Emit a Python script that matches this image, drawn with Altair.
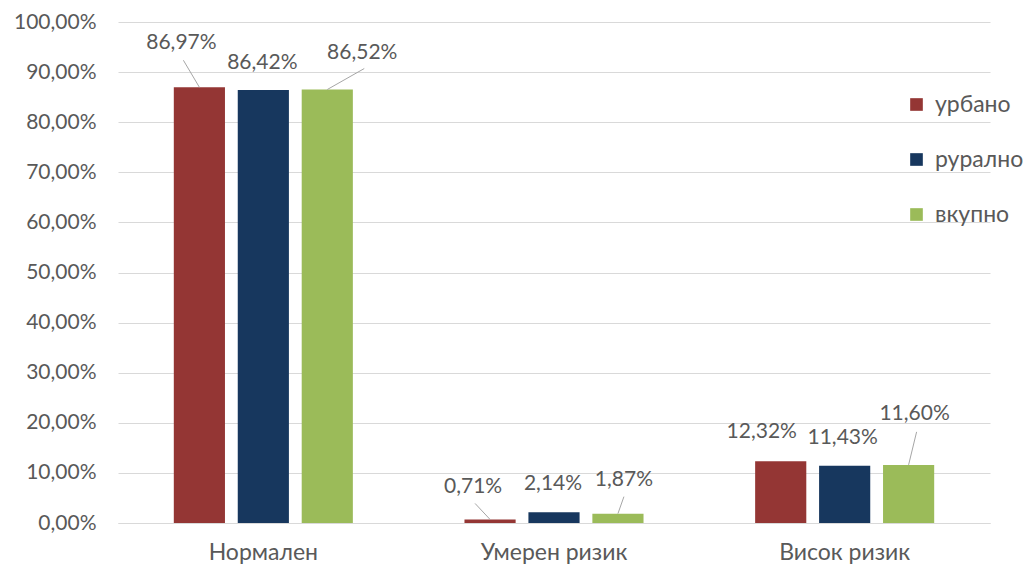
import altair as alt
import pandas as pd

# Risk categories and the three population groups
categories = ["Нормален", "Умерен ризик", "Висок ризик"]
series = ["урбано", "рурално", "вкупно"]

urban = [86.97, 0.71, 12.32]
rural = [86.42, 2.14, 11.43]
total = [86.52, 1.87, 11.60]

colors = ["#943634", "#17375e", "#9bbb59"]

# Plot-area size in pixels
W, H = 872, 501
FONT = "Lato"
TEXT = "#595959"

# Value-label nudges (pixels from the top centre of each bar), rows = categories
label_dx = [[-18, -1, 35], [-17, -1, 6], [-19, -2, 6]]
label_dy = [[-44, -27, -37], [-32, -28, -34], [-29, -28, -51]]

# Leader lines: (category, series, start dx, start dy) ending at the bar top centre
leaders = [(0, 0, -16, -27), (0, 2, 37, -21), (1, 0, -15, -16), (1, 2, 6, -17), (2, 2, 8, -33)]

# Helpers for placing labels on an overlay with a linear x scale over [0, 3]
PX_X = 3 / W                     # x data units per pixel
PX_Y = 100 / H                   # y data units per pixel
SERIES_STEP = (179 / 2.8) * PX_X  # distance between neighbouring bars

values = [urban, rural, total]
rows = []
for i, cat in enumerate(categories):
    for j, ser in enumerate(series):
        v = values[j][i]
        cx = i + 0.5 + (j - 1) * SERIES_STEP
        rows.append({
            "category": cat,
            "series": ser,
            "value": v,
            "label": f"{v:.2f}".replace(".", ",") + "%",
            "lx": cx + label_dx[i][j] * PX_X,
            "ly": v - label_dy[i][j] * PX_Y,
        })
df = pd.DataFrame(rows)

lead_rows = []
for i, j, dx, dy in leaders:
    v = values[j][i]
    cx = i + 0.5 + (j - 1) * SERIES_STEP
    lead_rows.append({
        "x1": cx + dx * PX_X,
        "y1": v - dy * PX_Y,
        "x2": cx,
        "y2": v,
    })
lead_df = pd.DataFrame(lead_rows)

y_scale = alt.Scale(domain=[0, 100], nice=False)
lin_x = alt.Scale(domain=[0, 3], nice=False, zero=False)

bars = alt.Chart(df).mark_bar().encode(
    x=alt.X(
        "category:N",
        sort=categories,
        scale=alt.Scale(paddingInner=0.384, paddingOuter=0.192),
        axis=alt.Axis(
            title=None, labelAngle=0, ticks=False, domainColor="#d9d9d9",
            labelPadding=18, labelFontSize=23, labelColor=TEXT, labelFont=FONT,
        ),
    ),
    xOffset=alt.XOffset("series:N", sort=series,
                        scale=alt.Scale(paddingInner=0.2, paddingOuter=0)),
    y=alt.Y(
        "value:Q",
        scale=y_scale,
        axis=alt.Axis(
            title=None, values=list(range(0, 101, 10)), domain=False, ticks=False,
            gridColor="#d9d9d9", labelPadding=22, labelFontSize=21,
            labelColor=TEXT, labelFont=FONT,
            labelExpr="replace(format(datum.value, '.2f'), '.', ',') + '%'",
        ),
    ),
    color=alt.Color(
        "series:N",
        sort=series,
        scale=alt.Scale(domain=series, range=colors),
        legend=alt.Legend(
            title=None, orient="none", legendX=787, legendY=71,
            symbolType="square", symbolSize=160, symbolStrokeWidth=0,
            labelFontSize=23, labelFont=FONT, labelColor=TEXT,
            labelOffset=7, rowPadding=31, padding=0,
        ),
    ),
)

labels = alt.Chart(df).mark_text(
    fontSize=21, font=FONT, color=TEXT, baseline="middle", align="center"
).encode(
    x=alt.X("lx:Q", scale=lin_x, axis=None),
    y=alt.Y("ly:Q", scale=y_scale),
    text="label:N",
)

leader_lines = alt.Chart(lead_df).mark_rule(color="#a6a6a6", strokeWidth=1).encode(
    x=alt.X("x1:Q", scale=lin_x, axis=None),
    x2="x2:Q",
    y=alt.Y("y1:Q", scale=y_scale),
    y2="y2:Q",
)

chart = (
    alt.layer(bars, leader_lines, labels)
    .resolve_scale(x="independent")
    .properties(
        width=W, height=H,
        autosize=alt.AutoSizeParams(type="none"),
        padding={"left": 118, "top": 22, "right": 1029 - 118 - W, "bottom": 568 - 22 - H},
        background="white",
    )
    .configure_view(stroke=None)
)

chart.save("out.html", embed_options={"renderer": "svg", "actions": False})
